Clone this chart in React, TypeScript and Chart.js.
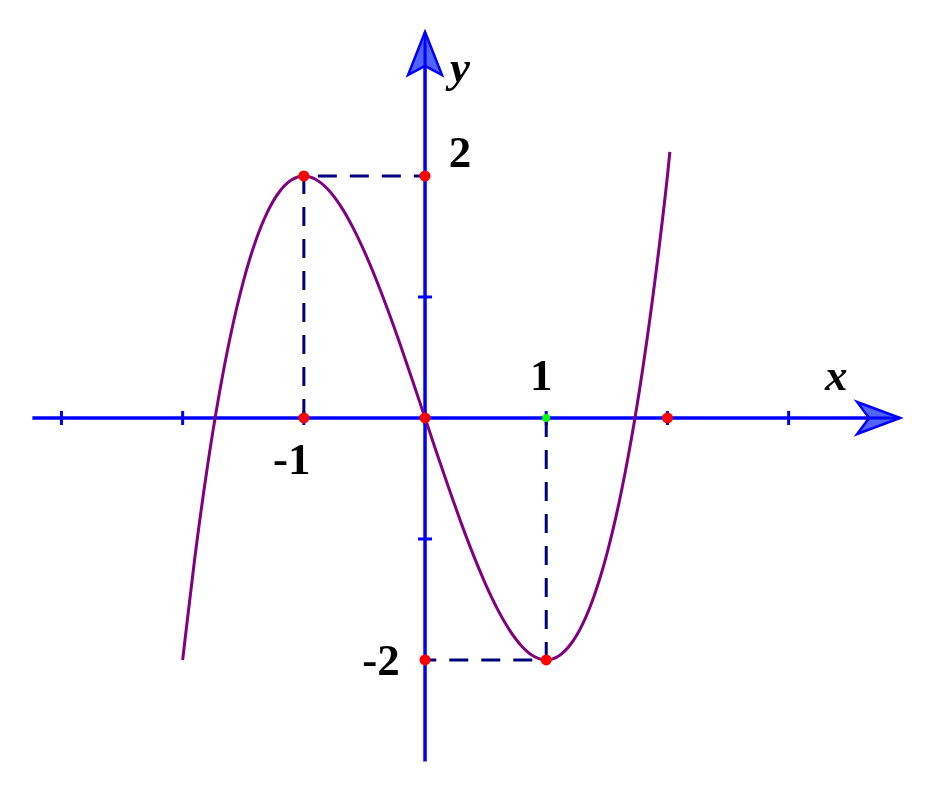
import React, { useEffect, useRef } from "react";
import { Chart, registerables } from "chart.js";

Chart.register(...registerables);

// Curve y = f(x)
const curveX = [-2.0, -1.9, -1.8, -1.7, -1.6, -1.5, -1.4, -1.3, -1.2, -1.1, -1.0, -0.9, -0.8, -0.7, -0.6, -0.5, -0.4, -0.3, -0.2, -0.1, 0.0,
  0.1, 0.2, 0.3, 0.4, 0.5, 0.6, 0.7, 0.8, 0.9, 1.0, 1.1, 1.2, 1.3, 1.4, 1.5, 1.6, 1.7, 1.8, 1.9, 2.0, 2.02];
const curveY = [-2.0, -1.159, -0.432, 0.187, 0.704, 1.125, 1.456, 1.703, 1.872, 1.969, 2.0, 1.971, 1.888, 1.757, 1.584, 1.375, 1.136, 0.873, 0.592, 0.299, 0.0,
  -0.299, -0.592, -0.873, -1.136, -1.375, -1.584, -1.757, -1.888, -1.971, -2.0, -1.969, -1.872, -1.703, -1.456, -1.125, -0.704, -0.187, 0.432, 1.159, 2.0, 2.2];

// dashed guides
const guideMaxX = [-1, -1, 0];
const guideMaxY = [0, 2, 2];
const guideMinX = [1, 1, 0];
const guideMinY = [0, -2, -2];

// marked points
const redX = [-1, 0, -1, 0, 2, 1, 0];
const redY = [2, 2, 0, 0, 0, -2, -2];
const greenX = [1];
const greenY = [0];

// axes
const xAxisRange = [-3.24, 3.92];
const yAxisRange = [-2.84, 3.19];
const xTicks = [-3, -2, -1, 0, 1, 2, 3];
const yTicks = [-1, 1];

// labels: text, anchor x, anchor y
const labelTexts = ["2", "-2", "-1", "1"];
const labelAnchorX = [0, 0, -1, 1];
const labelAnchorY = [2, -2, 0, 0];

const xMin = -3.507, xMax = 4.183, yMin = -3.116, yMax = 3.4545;

const zip = (xs: number[], ys: number[]) => xs.map((x, i) => ({ x, y: ys[i] }));

export default function App() {
  const ref = useRef<HTMLCanvasElement | null>(null);
  useEffect(() => {
    if (!ref.current) return;
    const axesPlugin = {
      id: "axesPlugin",
      beforeDatasetsDraw(chart: any) {
        const ctx = chart.ctx;
        const xs = chart.scales.x, ys = chart.scales.y;
        const ox = xs.getPixelForValue(0), oy = ys.getPixelForValue(0);
        const blue = "#0000ff";
        ctx.save();
        ctx.strokeStyle = blue;
        ctx.lineWidth = 3.5;
        // x axis
        const x0 = xs.getPixelForValue(xAxisRange[0]);
        const x1 = xs.getPixelForValue(xAxisRange[1]);
        ctx.beginPath();
        ctx.moveTo(x0, oy);
        ctx.lineTo(x1 - 10, oy);
        ctx.stroke();
        // y axis
        const y0 = ys.getPixelForValue(yAxisRange[0]);
        const y1 = ys.getPixelForValue(yAxisRange[1]);
        ctx.beginPath();
        ctx.moveTo(ox, y0);
        ctx.lineTo(ox, y1 + 10);
        ctx.stroke();
        // ticks
        ctx.lineWidth = 3;
        xTicks.forEach((t) => {
          const p = xs.getPixelForValue(t);
          ctx.beginPath();
          ctx.moveTo(p, oy - 7);
          ctx.lineTo(p, oy + 7);
          ctx.stroke();
        });
        yTicks.forEach((t) => {
          const p = ys.getPixelForValue(t);
          ctx.beginPath();
          ctx.moveTo(ox - 7, p);
          ctx.lineTo(ox + 7, p);
          ctx.stroke();
        });
        // arrows
        ctx.fillStyle = "rgba(40,60,255,0.8)";
        ctx.lineWidth = 2.5;
        ctx.lineJoin = "miter";
        ctx.beginPath();
        ctx.moveTo(x1, oy);
        ctx.lineTo(x1 - 43, oy - 16);
        ctx.lineTo(x1 - 31, oy);
        ctx.lineTo(x1 - 43, oy + 16);
        ctx.closePath();
        ctx.fill();
        ctx.stroke();
        ctx.beginPath();
        ctx.moveTo(x1 - 31, oy);
        ctx.lineTo(x1, oy);
        ctx.stroke();
        ctx.beginPath();
        ctx.moveTo(ox, y1);
        ctx.lineTo(ox - 17, y1 + 43);
        ctx.lineTo(ox, y1 + 34);
        ctx.lineTo(ox + 17, y1 + 43);
        ctx.closePath();
        ctx.fill();
        ctx.stroke();
        ctx.beginPath();
        ctx.moveTo(ox, y1 + 34);
        ctx.lineTo(ox, y1);
        ctx.stroke();
        ctx.restore();
      },
      afterDraw(chart: any) {
        const ctx = chart.ctx;
        const xs = chart.scales.x, ys = chart.scales.y;
        ctx.save();
        ctx.fillStyle = "#000";
        ctx.textAlign = "center";
        ctx.textBaseline = "alphabetic";
        ctx.font = 'bold 45px "Liberation Serif", "Times New Roman", serif';
        const offs = [[35, -9], [-44, 15], [-12, 56], [-5, -28]];
        labelTexts.forEach((t, i) => {
          const px = xs.getPixelForValue(labelAnchorX[i]);
          const py = ys.getPixelForValue(labelAnchorY[i]);
          ctx.fillText(t, px + offs[i][0], py + offs[i][1]);
        });
        ctx.font = 'italic bold 45px "Liberation Serif", "Times New Roman", serif';
        const ax = xs.getPixelForValue(xAxisRange[1]);
        const oy = ys.getPixelForValue(0);
        ctx.fillText("x", ax - 64, oy - 28);
        const ox = xs.getPixelForValue(0);
        const ay = ys.getPixelForValue(yAxisRange[1]);
        ctx.fillText("y", ox + 35, ay + 50);
        ctx.restore();
      },
    };

    const chart = new Chart(ref.current, {
      type: "scatter",
      data: {
        datasets: [
          {
            data: zip(greenX, greenY),
            backgroundColor: "#00ff00",
            borderColor: "#00ff00",
            pointRadius: 4,
            pointBorderWidth: 0,
            order: 0,
          },
          {
            data: zip(redX, redY),
            backgroundColor: "#ff0000",
            borderColor: "#ff0000",
            pointRadius: 5.5,
            pointBorderWidth: 0,
            order: 1,
          },
          {
            type: "line",
            data: zip(curveX, curveY),
            borderColor: "#800080",
            borderWidth: 3,
            pointRadius: 0,
            cubicInterpolationMode: "monotone",
            fill: false,
            order: 2,
          },
          {
            type: "line",
            data: zip(guideMaxX, guideMaxY),
            borderColor: "#000080",
            borderWidth: 3,
            borderDash: [19, 13],
            pointRadius: 0,
            fill: false,
            order: 3,
          },
          {
            type: "line",
            data: zip(guideMinX, guideMinY),
            borderColor: "#000080",
            borderWidth: 3,
            borderDash: [19, 13],
            pointRadius: 0,
            fill: false,
            order: 4,
          },
        ] as any,
      },
      options: {
        animation: false,
        responsive: false,
        maintainAspectRatio: false,
        layout: { padding: 0, autoPadding: false },
        plugins: { legend: { display: false }, tooltip: { enabled: false } },
        scales: {
          x: { type: "linear", min: xMin, max: xMax, display: false },
          y: { type: "linear", min: yMin, max: yMax, display: false },
        },
      } as any,
      plugins: [axesPlugin],
    });
    return () => chart.destroy();
  }, []);

  return (
    <div style={{ position: "absolute", left: 0, top: 0, width: 932, height: 795, background: "#fff" }}>
      <canvas ref={ref} width={932} height={795} style={{ width: 932, height: 795 }} />
    </div>
  );
}
